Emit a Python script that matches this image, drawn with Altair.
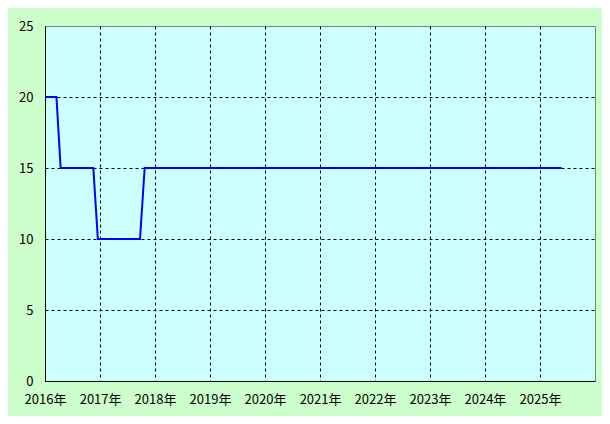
import altair as alt
import pandas as pd

dates = ["2016/01/05", "2016/03/17", "2016/04/14", "2016/11/17", "2016/12/17",
         "2017/09/23", "2017/10/24", "2025/05/25"]
values = [20, 20, 15, 15, 10, 10, 15, 15]
years = list(range(2016, 2026))
y_ticks = [0, 5, 10, 15, 20, 25]

df = pd.DataFrame({"date": dates, "value": values})

FONT = "Noto Sans CJK JP"

chart = alt.Chart(df).mark_line(color="#0000ff", strokeWidth=2, clip=True).encode(
    x=alt.X(
        "date:T",
        scale=alt.Scale(domain=[alt.DateTime(year=2016, month=1, date=1),
                                alt.DateTime(year=2026, month=1, date=1)]),
        axis=alt.Axis(
            values=[alt.DateTime(year=y, month=1, date=1) for y in years],
            format="%Y年",
            title=None,
            ticks=False,
            labelPadding=12,
            labelFontSize=13,
            labelFont=FONT,
            labelColor="#000000",
            labelFontWeight="normal",
            domainColor="#000000",
            domainWidth=1,
            grid=True,
            gridColor="#000000",
            gridDash=[3, 3],
            gridWidth=1,
            labelFlush=False,
            labelOverlap=False,
        ),
    ),
    y=alt.Y(
        "value:Q",
        scale=alt.Scale(domain=[0, 25], nice=False),
        axis=alt.Axis(
            values=y_ticks,
            title=None,
            ticks=False,
            labelPadding=12,
            labelFontSize=13,
            labelFont=FONT,
            labelColor="#000000",
            domainColor="#000000",
            domainWidth=1,
            grid=True,
            gridColor="#000000",
            gridDash=[3, 3],
            gridWidth=1,
            gridOpacity=alt.condition("datum.value == 25 || datum.value == 0",
                                      alt.value(0), alt.value(1)),
            labelFlush=False,
        ),
    ),
).properties(
    width=550,
    height=355,
    background="#ccffcc",
    padding={"left": 37, "top": 18, "right": 7, "bottom": 35},
    autosize=alt.AutoSizeParams(type="none"),
).configure_view(
    fill="#ccffff",
    stroke="#808080",
    strokeWidth=1,
)

chart.save("out.html", embed_options={"renderer": "svg", "actions": False})
